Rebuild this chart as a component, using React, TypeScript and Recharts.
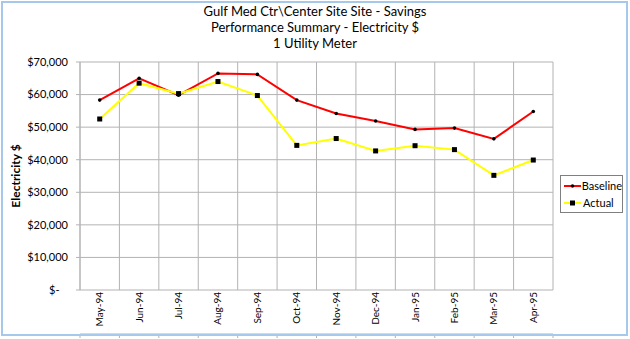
import React from 'react';
import { LineChart, Line, XAxis, YAxis, CartesianGrid } from 'recharts';

const months = ['May-94', 'Jun-94', 'Jul-94', 'Aug-94', 'Sep-94', 'Oct-94', 'Nov-94', 'Dec-94', 'Jan-95', 'Feb-95', 'Mar-95', 'Apr-95'];
const baseline = [58300, 65000, 59800, 66500, 66200, 58300, 54200, 51900, 49300, 49700, 46400, 54800];
const actual = [52500, 63500, 60300, 64000, 59700, 44400, 46500, 42700, 44300, 43100, 35200, 39900];
const yTicks = [0, 10000, 20000, 30000, 40000, 50000, 60000, 70000];
const titleLines = ['Gulf Med Ctr\\Center Site Site - Savings', 'Performance Summary - Electricity $', '1 Utility Meter'];

const data = months.map((m, i) => ({ i, month: m, baseline: baseline[i], actual: actual[i] }));
const catTicks = months.map((_, i) => i);
const gridTicks = [...catTicks.map((i) => i - 0.5), months.length - 0.5];

const FONT = 'Lato, "Open Sans", sans-serif';
const GRID = '#b3b3b3';

// excel accounting style: zero shows as "$-" a bit left of the other labels
const fmtMoney = (v: number) => (v === 0 ? '$-\u00a0\u00a0\u00a0' : '$' + v.toLocaleString('en-US'));

const MonthTick = (props: any) => {
  const { x, y, payload } = props;
  return (
    <text
      x={x}
      y={y + 2}
      transform={`rotate(-90, ${x}, ${y + 2})`}
      textAnchor="end"
      dy="0.35em"
      fontSize={10}
      fontFamily={FONT}
      fill="#000"
    >
      {months[payload.value]}
    </text>
  );
};

const BaseDot = (props: any) => {
  const { cx, cy } = props;
  if (cx == null || cy == null) return null;
  return <circle cx={cx} cy={cy} r={1.8} fill="#000" />;
};

const ActualDot = (props: any) => {
  const { cx, cy } = props;
  if (cx == null || cy == null) return null;
  return <rect x={cx - 2.5} y={cy - 2.5} width={5} height={5} fill="#000" />;
};

const LegendBox = () => {
  const items = [
    { name: 'Baseline', color: '#ff0000', square: false },
    { name: 'Actual', color: '#ffff00', square: true },
  ];
  return (
    <div
      style={{
        position: 'absolute',
        left: 560,
        top: 175,
        border: '1px solid #7f7f7f',
        width: 61,
        height: 35,
        background: '#fff',
        fontFamily: FONT,
        fontSize: 11,
        paddingTop: 1,
        boxSizing: 'content-box',
      }}
    >
      {items.map((it) => (
        <div key={it.name} style={{ display: 'flex', alignItems: 'center', height: 17 }}>
          <svg width={19} height={8} style={{ marginLeft: 2 }}>
            <line x1={1} y1={4} x2={18} y2={4} stroke={it.color} strokeWidth={2} />
            {it.square ? <rect x={7} y={1.5} width={5} height={5} fill="#000" /> : <circle cx={9.5} cy={4} r={1.8} fill="#000" />}
          </svg>
          <span style={{ marginLeft: 1 }}>{it.name}</span>
        </div>
      ))}
    </div>
  );
};

export default function App() {
  return (
    <div style={{ position: 'absolute', left: 0, top: 0, width: 630, height: 339, background: '#fff' }}>
      <div
        style={{
          position: 'absolute',
          left: 0,
          top: 3,
          width: 630,
          textAlign: 'center',
          fontFamily: FONT,
          fontSize: 13,
          lineHeight: '16px',
          color: '#000',
        }}
      >
        {titleLines.map((t) => (
          <div key={t}>{t}</div>
        ))}
      </div>
      <LineChart width={630} height={339} data={data} margin={{ top: 62, right: 77, bottom: 0, left: 0 }}>
        <CartesianGrid xAxisId="grid" stroke={GRID} strokeWidth={1} />
        <XAxis
          xAxisId="cat"
          dataKey="i"
          type="number"
          domain={[-0.5, months.length - 0.5]}
          ticks={catTicks}
          interval={0}
          axisLine={false}
          tickLine={false}
          tickSize={0}
          tickMargin={0}
          height={44}
          tick={<MonthTick />}
          allowDataOverflow
        />
        <XAxis
          xAxisId="grid"
          dataKey="i"
          type="number"
          domain={[-0.5, months.length - 0.5]}
          ticks={gridTicks}
          interval={0}
          tickFormatter={() => ''}
          tickSize={4}
          height={5}
          stroke={GRID}
          allowDataOverflow
        />
        <YAxis
          domain={[0, 70000]}
          ticks={yTicks}
          interval={0}
          width={80}
          tickSize={4}
          tickMargin={8}
          stroke={GRID}
          tick={{ fill: '#000', fontSize: 11, fontFamily: FONT }}
          tickFormatter={fmtMoney}
          label={{
            value: 'Electricity $',
            angle: -90,
            position: 'insideLeft',
            offset: 16,
            style: { fontWeight: 'bold', fontSize: 12, fontFamily: FONT, fill: '#000', textAnchor: 'middle' },
          }}
        />
        <Line
          xAxisId="cat"
          dataKey="baseline"
          name="Baseline"
          stroke="#ff0000"
          strokeWidth={2}
          dot={<BaseDot />}
          activeDot={false}
          isAnimationActive={false}
        />
        <Line
          xAxisId="cat"
          dataKey="actual"
          name="Actual"
          stroke="#ffff00"
          strokeWidth={2}
          dot={<ActualDot />}
          activeDot={false}
          isAnimationActive={false}
        />
      </LineChart>
      <LegendBox />
      <div
        style={{
          position: 'absolute',
          left: 1,
          top: 1,
          width: 627,
          height: 335,
          border: '2px solid #a6c8ea',
          boxSizing: 'border-box',
          pointerEvents: 'none',
        }}
      />
    </div>
  );
}
